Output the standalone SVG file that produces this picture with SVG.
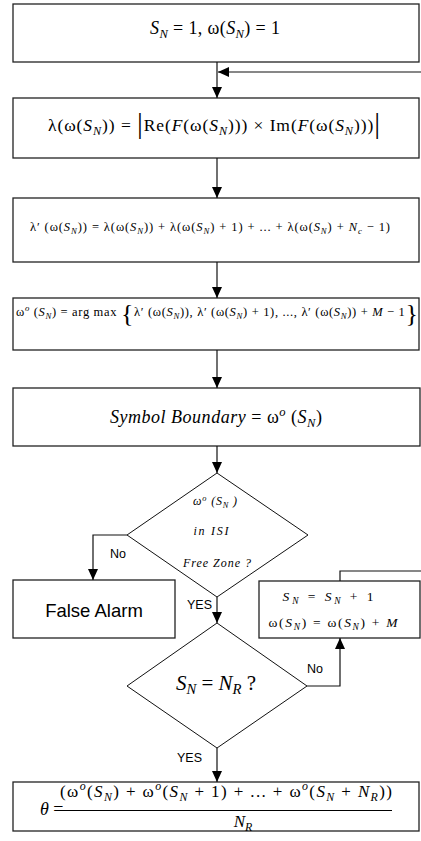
<svg xmlns="http://www.w3.org/2000/svg" width="421" height="841" viewBox="0 0 421 841">
<style>
.box{fill:#fff;stroke:#222;stroke-width:1.3}
.dia{fill:#fff;stroke:#111;stroke-width:1}
.ln{fill:none;stroke:#111;stroke-width:1.2}
.m{font-family:"Liberation Serif","Times New Roman",serif;fill:#000}
.i{font-style:italic}
.s{font-size:70%}
.lab{font-family:"Liberation Sans",Arial,sans-serif;fill:#000}
</style>
<defs>
<marker id="ah" viewBox="0 0 10 10" refX="10" refY="5" markerWidth="11" markerHeight="10" markerUnits="userSpaceOnUse" orient="auto" preserveAspectRatio="none">
<path d="M0,0 L10,5 L0,10 z" fill="#000"/>
</marker>
</defs>
<rect width="421" height="841" fill="#fff"/>

<g id="n1">
<rect class="box" x="13" y="4" width="406" height="58"/>
<text class="m" font-family="Liberation Serif, serif" x="215" y="34" font-size="18" text-anchor="middle" textLength="130" lengthAdjust="spacing"><tspan class="i">S</tspan><tspan class="i s" dy="4">N</tspan><tspan dy="-4"> = 1, ω(</tspan><tspan class="i">S</tspan><tspan class="i s" dy="4">N</tspan><tspan dy="-4">) = 1</tspan></text>
</g>

<g id="n2">
<rect class="box" x="13" y="98" width="406" height="60"/>
<text class="m" font-family="Liberation Serif, serif" x="214" y="131" font-size="17.5" text-anchor="middle" textLength="332" lengthAdjust="spacing">λ(ω(<tspan class="i">S</tspan><tspan class="i s" dy="4">N</tspan><tspan dy="-4">)) = </tspan><tspan font-size="29" dy="2">|</tspan><tspan dy="-2">Re(</tspan><tspan class="i">F</tspan>(ω(<tspan class="i">S</tspan><tspan class="i s" dy="4">N</tspan><tspan dy="-4">))) × Im(</tspan><tspan class="i">F</tspan>(ω(<tspan class="i">S</tspan><tspan class="i s" dy="4">N</tspan><tspan dy="-4">)))</tspan><tspan font-size="29" dy="2">|</tspan></text>
</g>

<g id="n3">
<rect class="box" x="13" y="198" width="406" height="64"/>
<text class="m" font-family="Liberation Serif, serif" x="210" y="231" font-size="12.5" text-anchor="middle" textLength="360" lengthAdjust="spacing">λ′ (ω(<tspan class="i">S</tspan><tspan class="i s" dy="3">N</tspan><tspan dy="-3">)) = λ(ω(</tspan><tspan class="i">S</tspan><tspan class="i s" dy="3">N</tspan><tspan dy="-3">)) + λ(ω(</tspan><tspan class="i">S</tspan><tspan class="i s" dy="3">N</tspan><tspan dy="-3">) + 1) + ... + λ(ω(</tspan><tspan class="i">S</tspan><tspan class="i s" dy="3">N</tspan><tspan dy="-3">) + </tspan><tspan class="i">N</tspan><tspan class="i s" dy="3">c</tspan><tspan dy="-3"> − 1)</tspan></text>
</g>

<g id="n4">
<rect class="box" x="13" y="298" width="406" height="52"/>
<text class="m" font-family="Liberation Serif, serif" x="217" y="316" font-size="12.5" text-anchor="middle" textLength="402" lengthAdjust="spacing">ω<tspan class="i s" dy="-5">o</tspan><tspan dy="5"> (</tspan><tspan class="i">S</tspan><tspan class="i s" dy="3">N</tspan><tspan dy="-3">) = arg  max </tspan><tspan font-size="26" dy="6">{</tspan><tspan dy="-6">λ′ (ω(</tspan><tspan class="i">S</tspan><tspan class="i s" dy="3">N</tspan><tspan dy="-3">)), λ′ (ω(</tspan><tspan class="i">S</tspan><tspan class="i s" dy="3">N</tspan><tspan dy="-3">) + 1), ..., λ′ (ω(</tspan><tspan class="i">S</tspan><tspan class="i s" dy="3">N</tspan><tspan dy="-3">)) + </tspan><tspan class="i">M</tspan> − 1<tspan font-size="26" dy="6">}</tspan></text>
</g>

<g id="n5">
<rect class="box" x="13" y="388" width="407" height="58"/>
<text class="m" font-family="Liberation Serif, serif" x="216" y="423" font-size="18" text-anchor="middle" textLength="212" lengthAdjust="spacing"><tspan class="i">Symbol  Boundary</tspan> = ω<tspan class="i s" dy="-7">o</tspan><tspan dy="7"> (</tspan><tspan class="i">S</tspan><tspan class="i s" dy="4">N</tspan><tspan dy="-4">)</tspan></text>
</g>

<g id="d1">
<polygon class="dia" points="217,473 308,535 217,597 127,535"/>
<text class="m i" font-family="Liberation Serif, serif" x="215" y="505" font-size="12" text-anchor="middle" textLength="44" lengthAdjust="spacing">ω<tspan class="s" dy="-4">o</tspan><tspan dy="4"> (S</tspan><tspan class="s" dy="3">N</tspan><tspan dy="-3"> )</tspan></text>
<text class="m i" font-family="Liberation Serif, serif" x="211" y="535" font-size="12" text-anchor="middle" textLength="35" lengthAdjust="spacing">in ISI</text>
<text class="m i" font-family="Liberation Serif, serif" x="217" y="567" font-size="12" text-anchor="middle" textLength="68" lengthAdjust="spacing">Free Zone ?</text>
</g>

<g id="fa">
<rect class="box" x="13" y="580" width="162" height="58"/>
<text class="lab" x="94" y="617" font-size="18.5" text-anchor="middle">False Alarm</text>
</g>

<g id="n6">
<rect class="box" x="259" y="581" width="161" height="57"/>
<text class="m" font-family="Liberation Serif, serif" x="328" y="601" font-size="13.5" text-anchor="middle" textLength="91" lengthAdjust="spacing"><tspan class="i">S</tspan><tspan class="i s" dy="3">N</tspan><tspan dy="-3"> = </tspan><tspan class="i">S</tspan><tspan class="i s" dy="3">N</tspan><tspan dy="-3"> + 1</tspan></text>
<text class="m" font-family="Liberation Serif, serif" x="333" y="627" font-size="13.5" text-anchor="middle" textLength="129" lengthAdjust="spacing">ω(<tspan class="i">S</tspan><tspan class="i s" dy="3">N</tspan><tspan dy="-3">) = ω(</tspan><tspan class="i">S</tspan><tspan class="i s" dy="3">N</tspan><tspan dy="-3">) + </tspan><tspan class="i">M</tspan></text>
</g>

<g id="d2">
<polygon class="dia" points="217,623 307,686 217,748 127,686"/>
<text class="m" font-family="Liberation Serif, serif" x="216" y="690" font-size="21" text-anchor="middle"><tspan class="i">S</tspan><tspan class="i s" dy="4">N</tspan><tspan dy="-4"> = </tspan><tspan class="i">N</tspan><tspan class="i s" dy="4">R</tspan><tspan dy="-4"> ?</tspan></text>
</g>

<g id="n7">
<rect class="box" x="13" y="782" width="406" height="49"/>
<text class="m" font-family="Liberation Serif, serif" x="40" y="815" font-size="18"><tspan class="i">θ</tspan> =</text>
<text class="m" font-family="Liberation Serif, serif" x="226" y="797" font-size="17" text-anchor="middle" textLength="332" lengthAdjust="spacing">(ω<tspan class="i s" dy="-7">o</tspan><tspan dy="7">(</tspan><tspan class="i">S</tspan><tspan class="i s" dy="4">N</tspan><tspan dy="-4">) + ω</tspan><tspan class="i s" dy="-7">o</tspan><tspan dy="7">(</tspan><tspan class="i">S</tspan><tspan class="i s" dy="4">N</tspan><tspan dy="-4"> + 1) + ... + ω</tspan><tspan class="i s" dy="-7">o</tspan><tspan dy="7">(</tspan><tspan class="i">S</tspan><tspan class="i s" dy="4">N</tspan><tspan dy="-4"> + </tspan><tspan class="i">N</tspan><tspan class="i s" dy="4">R</tspan><tspan dy="-4">))</tspan></text>
<line x1="60" y1="810.5" x2="392" y2="810.5" stroke="#000" stroke-width="1"/>
<text class="m" font-family="Liberation Serif, serif" x="243" y="827" font-size="17" text-anchor="middle"><tspan class="i">N</tspan><tspan class="i s" dy="4">R</tspan></text>
</g>

<g id="connectors" class="ln">
<path d="M217,62 V98" marker-end="url(#ah)"/>
<path d="M421,72 H218" marker-end="url(#ah)"/>
<path d="M217,158 V198" marker-end="url(#ah)"/>
<path d="M217,262 V298" marker-end="url(#ah)"/>
<path d="M217,350 V388" marker-end="url(#ah)"/>
<path d="M217,446 V473" marker-end="url(#ah)"/>
<path d="M217,597 V623" marker-end="url(#ah)"/>
<path d="M217,748 V782" marker-end="url(#ah)"/>
<path d="M127,535 H93 V580" marker-end="url(#ah)"/>
<path d="M307,686 H340 V638" marker-end="url(#ah)"/>
<path d="M340,581 V571 H421"/>
</g>

<g id="labels" class="lab" font-size="12.5">
<text x="110" y="558">No</text>
<text x="187" y="609">YES</text>
<text x="307" y="673">No</text>
<text x="177" y="762">YES</text>
</g>
</svg>
